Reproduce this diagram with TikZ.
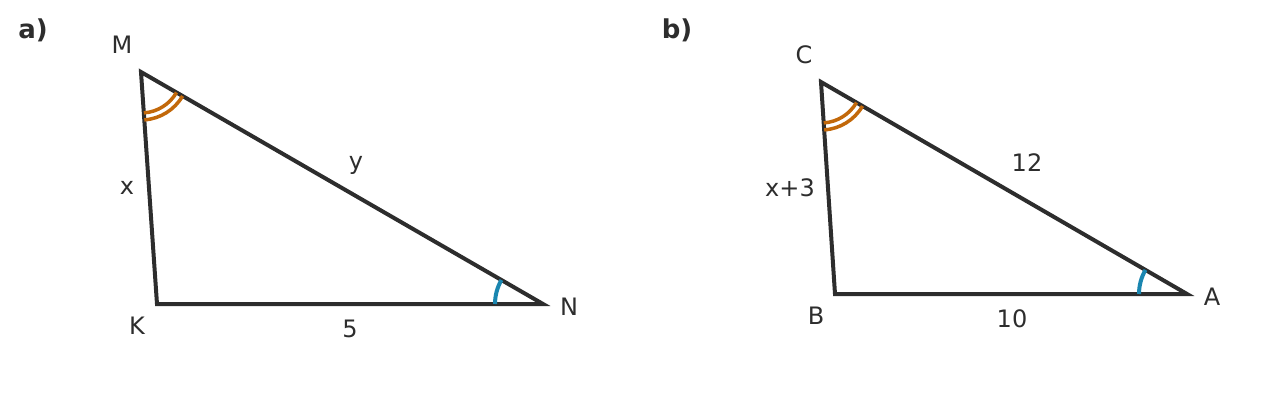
\documentclass[tikz,border=0pt]{standalone}
\usepackage{fontspec}
\setmainfont{DejaVu Sans}
\usetikzlibrary{angles}
\definecolor{ink}{HTML}{2D2D2D}
\definecolor{orangeArc}{HTML}{C2680A}
\definecolor{blueArc}{HTML}{1A86B0}
\tikzset{
  side/.style={draw=ink, line width=4pt, line join=miter},
  lbl/.style={text=ink, font=\fontsize{24}{28}\selectfont, inner sep=0pt},
  head/.style={text=ink, font=\fontsize{26}{30}\selectfont\bfseries, inner sep=0pt},
  dblA/.style={draw=orangeArc, line width=3.5pt},
  sngA/.style={draw=blueArc, line width=4pt},
}
\begin{document}
\begin{tikzpicture}[x=1pt,y=1pt]
\useasboundingbox (0,0) rectangle (1261,416);
% triangle a
\coordinate (M) at (141,344);
\coordinate (K) at (157,112);
\coordinate (N) at (543,112);
\draw[side] (M) -- (K) -- (N) -- cycle;
\pic[dblA, angle radius=41pt] {angle = K--M--N};
\pic[dblA, angle radius=48pt] {angle = K--M--N};
\pic[sngA, angle radius=48pt] {angle = M--N--K};
\node[head] (la) at (33,386) {a)};
\node[lbl] (lM) at (122,371) {M};
\node[lbl] (lK) at (137,90) {K};
\node[lbl] (lN) at (569,109) {N};
\node[lbl] (lx) at (127,228) {x};
\node[lbl] (ly) at (356,251) {y};
\node[lbl] (l5) at (350,87) {5};
% triangle b
\coordinate (C) at (821,334);
\coordinate (B) at (835,122);
\coordinate (A) at (1187,122);
\draw[side] (C) -- (B) -- (A) -- cycle;
\pic[dblA, angle radius=41pt] {angle = B--C--A};
\pic[dblA, angle radius=48pt] {angle = B--C--A};
\pic[sngA, angle radius=48pt] {angle = C--A--B};
\node[head] (lb) at (677,386) {b)};
\node[lbl] (lC) at (804,361) {C};
\node[lbl] (lB) at (816,100) {B};
\node[lbl] (lA) at (1212,119) {A};
\node[lbl] (lx3) at (790,228) {x+3};
\node[lbl] (l12) at (1027,253) {12};
\node[lbl] (l10) at (1012,97) {10};
\end{tikzpicture}
\end{document}
